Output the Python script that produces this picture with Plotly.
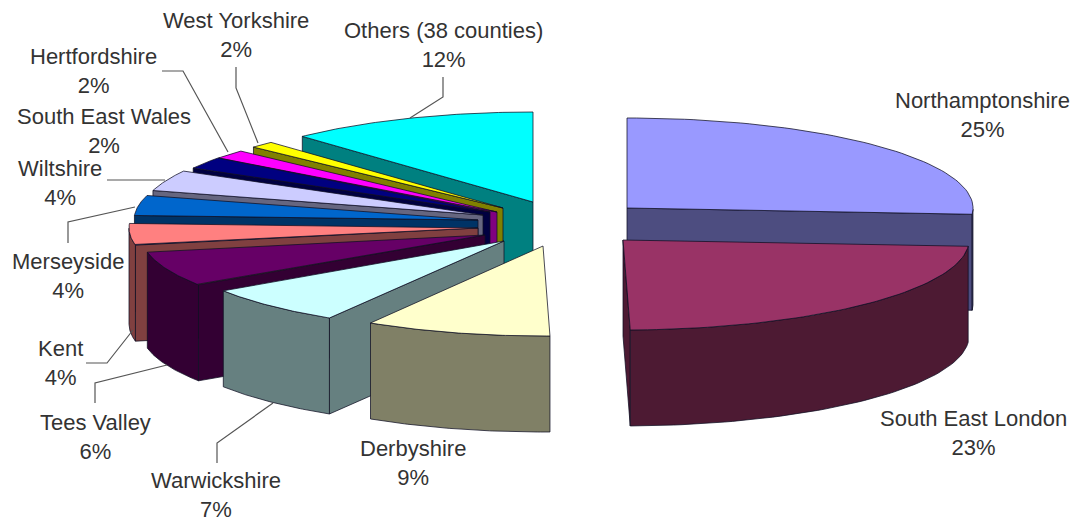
import numpy as np
import plotly.graph_objects as go

# ---- data ----
counties = ["Northamptonshire", "South East London", "Derbyshire", "Warwickshire",
            "Tees Valley", "Kent", "Merseyside", "Wiltshire", "South East Wales",
            "Hertfordshire", "West Yorkshire", "Others (38 counties)"]
percent = [25, 23, 9, 7, 6, 4, 4, 4, 2, 2, 2, 12]

# ---- styles ----
top_colors = ["#9999FF", "#993366", "#FFFFCC", "#CCFFFF", "#660066", "#FF8080",
              "#0066CC", "#CCCCFF", "#000080", "#FF00FF", "#FFFF00", "#00FFFF"]
side_colors = ["#4D4D80", "#4D1A33", "#808066", "#668080", "#330033", "#804040",
               "#003366", "#666680", "#000040", "#800080", "#808000", "#008080"]
EDGE = "rgba(15,15,35,0.75)"

# ---- layout of the exploded 3-D pie (pixels) ----
centre_x = [627, 623, 543, 504, 485, 478, 478, 483, 490, 497, 503, 533]
centre_y = [208, 240, 246, 241, 235, 228, 220, 215, 212, 212, 208, 202]
radius_x = [346, 346, 333, 337, 344, 349, 344, 343, 340, 348, 339, 337]
RADIUS_Y = 90
DEPTH = 96
# perspective correction of each slice boundary, degrees
boundary_nudge = [0, 4, 6, 6, 6, 7, 6.5, 5, 4, 4.5, 3, 0, 0]
paint_order = [0, 11, 10, 9, 8, 7, 6, 5, 4, 3, 2, 1]

label_x = [982, 973, 413, 216, 95, 60, 68, 60, 104, 93, 236, 443]
label_y = [115, 433, 463, 495, 437, 363, 276, 183, 131, 71, 35, 45]

leaders = [
    ([410, 443, 443], [118, 97, 77]),
    ([236, 236, 258], [67, 88, 143]),
    ([162, 183, 228], [71, 71, 152]),
    ([107, 165], [180, 180]),
    ([68, 68, 135], [243, 222, 207]),
    ([86, 107, 133], [363, 363, 330]),
    ([95, 95, 167], [403, 383, 365]),
    ([217, 217, 273], [463, 443, 403]),
]

# ---- geometry from the values ----
edges = np.concatenate([[0], np.cumsum(percent)]) * 3.6 + np.array(boundary_nudge)


def arc(i, n=60):
    t = np.radians(np.linspace(edges[i], edges[i + 1], n))
    return centre_x[i] + radius_x[i] * np.sin(t), centre_y[i] - RADIUS_Y * np.cos(t)


def poly(fig, x, y, color):
    fig.add_trace(go.Scatter(
        x=np.append(x, x[0]), y=np.append(y, y[0]), mode="lines", fill="toself",
        fillcolor=color, line=dict(color=EDGE, width=1), hoverinfo="skip",
        showlegend=False))


fig = go.Figure()
for i in paint_order:
    ax, ay = arc(i)
    cx, cy = centre_x[i], centre_y[i]
    # only the radial wall that faces the viewer
    if np.sin(np.radians(edges[i])) < -1e-6:
        px, py = ax[0], ay[0]
        poly(fig, np.array([cx, px, px, cx]),
             np.array([cy, py, py + DEPTH, cy + DEPTH]), side_colors[i])
    if np.sin(np.radians(edges[i + 1])) > 1e-6:
        px, py = ax[-1], ay[-1]
        poly(fig, np.array([cx, px, px, cx]),
             np.array([cy, py, py + DEPTH, cy + DEPTH]), side_colors[i])
    t = np.linspace(edges[i], edges[i + 1], 60)
    vis = (t >= 90) & (t <= 270)
    if vis.sum() > 1:
        vx, vy = ax[vis], ay[vis]
        poly(fig, np.concatenate([vx, vx[::-1]]),
             np.concatenate([vy, vy[::-1] + DEPTH]), side_colors[i])
    poly(fig, np.concatenate([[cx], ax]), np.concatenate([[cy], ay]), top_colors[i])

for lx, ly in leaders:
    fig.add_trace(go.Scatter(x=lx, y=ly, mode="lines", hoverinfo="skip", showlegend=False,
                             line=dict(color="#555555", width=1.2)))

for name, pct, x, y in zip(counties, percent, label_x, label_y):
    fig.add_annotation(x=x, y=y, text=f"{name}<br>{pct}%", showarrow=False,
                       xanchor="center", yanchor="middle", align="center",
                       font=dict(family="Liberation Sans", size=22, color="#333333"))

fig.update_layout(width=1076, height=521, margin=dict(l=0, r=0, t=0, b=0),
                  paper_bgcolor="white", plot_bgcolor="white", showlegend=False,
                  xaxis=dict(range=[0, 1076], visible=False, fixedrange=True),
                  yaxis=dict(range=[521, 0], visible=False, fixedrange=True))
fig.write_html("out.html", post_script="document.body.style.margin='0';",
               config={"displayModeBar": False})
